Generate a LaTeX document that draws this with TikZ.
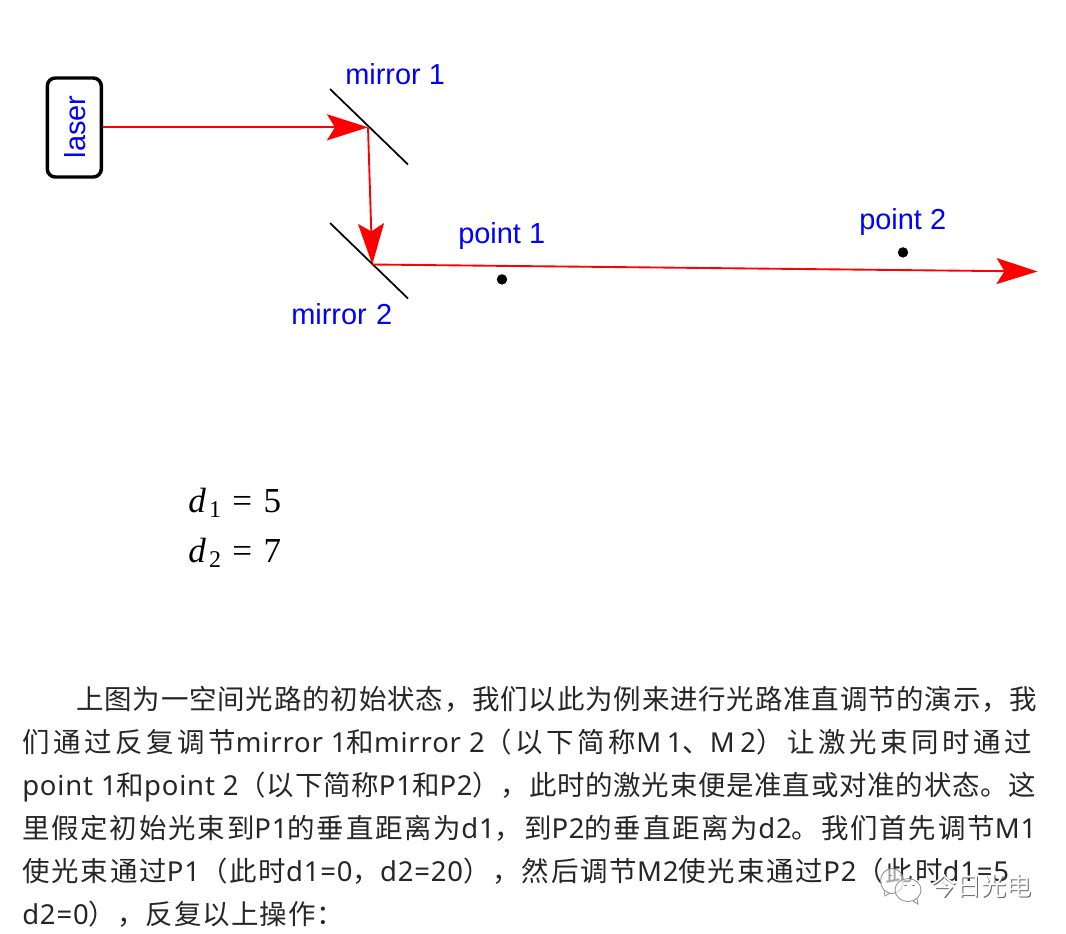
\documentclass[tikz,border=0pt]{standalone}
\usepackage{fontspec}
\usetikzlibrary{arrows.meta}
\setmainfont{Liberation Sans}
\newfontfamily\cjkplain{Noto Sans CJK SC}
\newfontfamily\tms{Liberation Serif}
\newfontfamily\latp[LetterSpace=3]{Noto Sans}
\newfontfamily\latw[LetterSpace=20]{Noto Sans}
\newcommand{\pl}[2]{\fontspec[LetterSpace=#1]{Noto Sans CJK SC}#2}
\newcommand{\la}[1]{{\latp #1}}
\newcommand{\law}[1]{{\latw #1}}
\tikzset{
  beam/.style={draw=red,line width=1.4pt,-{Stealth[length=30.75pt,width=19.5pt,inset=6pt]}},
  mirrorline/.style={draw=black,line width=1.3pt},
  lab/.style={text=blue,font=\fontsize{21.7}{21.7}\selectfont,inner sep=0pt,anchor=base west},
  para/.style={text=black!85,font=\fontsize{20.6}{20.6}\selectfont,inner sep=0pt,anchor=base west},
  eq/.style={text=black,font=\fontsize{26.3}{26.3}\tms,inner sep=0pt,anchor=base west},
  dotn/.style={circle,fill=black,minimum size=7.8pt,inner sep=0pt},
  wm/.style={font=\fontsize{18.9}{18.9}\cjkplain,inner sep=0pt,anchor=base west},
  bubble/.style={draw=black!45,fill=white,fill opacity=.6,line width=.6pt},
  bubbleline/.style={draw=black!45,line width=.6pt}
}
\newcommand{\subd}[1]{\textit{d}\hspace{2.4pt}\raisebox{-3.75pt}{\fontsize{18}{18}\selectfont #1}\hspace{8.5pt}=\hspace{8.5pt}}
\begin{document}
\begin{tikzpicture}[x=0.75pt,y=-0.75pt]
\useasboundingbox (0,0) rectangle (1066,933);
\node[draw=black,line width=2.6pt,rounded corners=6pt,minimum width=40.5pt,minimum height=74.25pt,inner sep=0pt] (laser) at (74.3,127.5) {};
\node[text=blue,font=\fontsize{21.7}{21.7}\selectfont,rotate=90,inner sep=0pt] (lasertxt) at (75,127) {laser};
\coordinate (m1a) at (330,89); \coordinate (m1b) at (408,164.5);
\coordinate (m2a) at (330,223); \coordinate (m2b) at (408,298.5);
\draw[mirrorline] (m1a) -- (m1b);
\draw[mirrorline] (m2a) -- (m2b);
\coordinate (hit1) at (368,127.3); \coordinate (hit2) at (372.3,264.5); \coordinate (out) at (1037.5,271.5);
\draw[beam] (laser.east |- hit1) -- (hit1);
\draw[beam] (hit1) -- (hit2);
\draw[beam] (hit2) -- (out);
\node[dotn] (p1) at (502,279.4) {};
\node[dotn] (p2) at (903,252.4) {};
\node[lab] (l1) at (345,84) {mirror 1};
\node[lab] (l2) at (291,324) {mirror\hspace{1pt} 2};
\node[lab] (l3) at (458,243) {point 1};
\node[lab] (l4) at (859,229) {point 2};
\node[eq] (e1) at (188,512) {\subd{1}5};
\node[eq] (e2) at (188,562) {\subd{2}7};
\node[para] (t1) at (76,709) {\pl{3}{上图为一空间光路的初始状态，我们以此为例来进行光路准直调节的演示，我}};
\node[para] (t2) at (22,752) {\pl{13}{们通过反复调节\la{mirror 1}和\la{mirror 2}（以下简称\law{M1}、\law{M2}）让激光束同时通过}};
\node[para] (t3) at (22,795) {\pl{2.7}{\la{point 1}和\la{point 2}（以下简称\la{P1}和\la{P2}），此时的激光束便是准直或对准的状态。这}};
\node[para] (t4) at (22,838) {\pl{6.5}{里假定初始光束到\la{P1}的垂直距离为\la{d1}，到\la{P2}的垂直距离为\la{d2}。我们首先调节\la{M1}}};
\node[para] (t5) at (22,881) {\pl{6.7}{使光束通过\la{P1}（此时\la{d1=0}，\la{d2=20}），然后调节\la{M2}使光束通过\la{P2}（此时\la{d1=5}}};
\node[para] (t6) at (22,924) {\pl{3.7}{\la{d2=0}），反复以上操作：}};
\draw[bubble] (892,881) ellipse (11.5 and 12.5);
\draw[bubble] (908,890) ellipse (13 and 11.5);
\coordinate (tail1a) at (884,891); \coordinate (tail1b) at (885,896); \coordinate (tail1c) at (890,893);
\coordinate (tail2a) at (913,901); \coordinate (tail2b) at (918,904); \coordinate (tail2c) at (917,899);
\draw[bubbleline] (tail1a) -- (tail1b) -- (tail1c);
\draw[bubbleline] (tail2a) -- (tail2b) -- (tail2c);
\coordinate (eye1a) at (889,875); \coordinate (eye1b) at (892,875);
\coordinate (eye2a) at (900,875); \coordinate (eye2b) at (903,875);
\coordinate (eye3a) at (904,885); \coordinate (eye3b) at (907,885);
\coordinate (eye4a) at (912,885); \coordinate (eye4b) at (915,885);
\draw[bubbleline] (eye1a) -- (eye1b) (eye2a) -- (eye2b) (eye3a) -- (eye3b) (eye4a) -- (eye4b);
\node[wm,text=black!60] (w1) at (932,896.5) {今日光电};
\node[wm,text=white] (w2) at (931,895.5) {今日光电};
\end{tikzpicture}
\end{document}
